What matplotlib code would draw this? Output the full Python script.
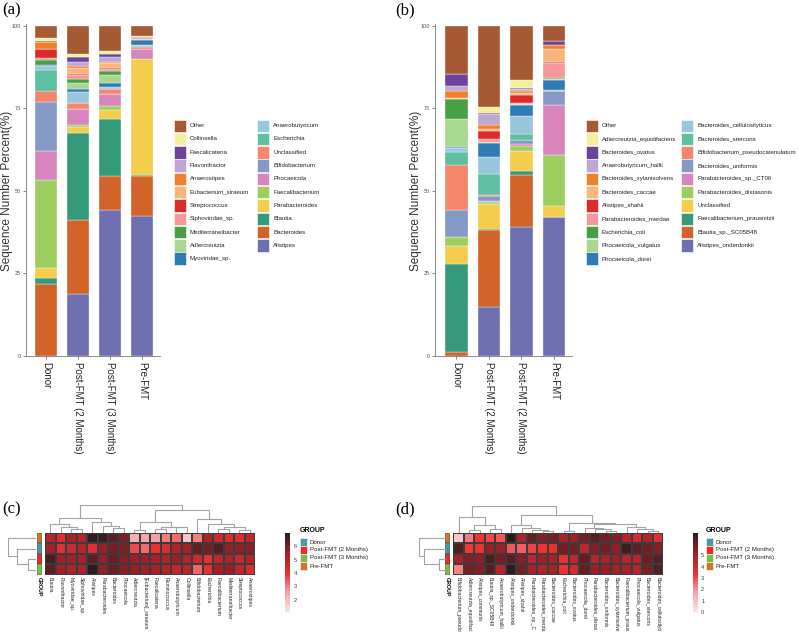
import numpy as np
import matplotlib
matplotlib.use("Agg")
import matplotlib.pyplot as plt
from matplotlib.colors import LinearSegmentedColormap
from matplotlib.patches import Rectangle

plt.rcParams['font.family'] = ['Liberation Sans', 'DejaVu Sans']

W, H = 798, 635
fig = plt.figure(figsize=(W / 100, H / 100), dpi=100)

# ---------------- data: stacked bars ----------------
groups_a = ['Donor', 'Post-FMT (2 Months)', 'Post-FMT (3 Months)', 'Pre-FMT']
groups_b = ['Donor', 'Post-FMT (2 Months)', 'Post-FMT (2 Months)', 'Pre-FMT']

palette = ['#A65A33', '#F2F09B', '#6A449B', '#BDA8D3', '#F37F2A', '#F8B67A', '#DC2B2B',
           '#F4989A', '#47A046', '#A8D78F', '#2E7BB5', '#98C6DC', '#5FBFA1', '#F5866B',
           '#8499C6', '#D885BE', '#9CCF60', '#F3CD4B', '#36997A', '#D2632B', '#6E6FAF']

genus = ['Other', 'Collinsella', 'Faecalicatena', 'Flavonifractor', 'Anaerostipes',
         'Eubacterium_siraeum', 'Streptococcus', 'Siphoviridae_sp.', 'Mediterraneibacter',
         'Adlercreutzia', 'Myoviridae_sp.', 'Anaerobutyricum', 'Escherichia', 'Unclassified',
         'Bifidobacterium', 'Phocaeicola', 'Faecalibacterium', 'Parabacteroides', 'Blautia',
         'Bacteroides', 'Alistipes']
genus_donor = [3.7, 1.0, 0.1, 0.1, 2.0, 0.2, 2.5, 0.8, 1.4, 0.1, 0.1, 1.3, 6.4, 3.2, 15.0, 8.8, 26.6, 3.0, 1.8, 21.9, 0.0]
genus_post2 = [8.6, 0.9, 1.4, 1.2, 0.5, 1.8, 0.4, 1.3, 1.2, 1.8, 1.0, 3.2, 0.1, 1.8, 0.1, 4.8, 0.4, 1.8, 26.5, 22.3, 18.9]
genus_post3 = [7.7, 0.8, 1.0, 1.4, 0.3, 1.4, 0.4, 0.6, 1.4, 2.4, 1.0, 0.6, 0.1, 1.4, 0.2, 3.6, 1.2, 2.8, 17.2, 10.3, 44.2]
genus_pre = [3.0, 0.0, 0.0, 0.0, 0.1, 0.1, 0.1, 0.6, 0.1, 0.1, 1.8, 0.1, 0.4, 0.5, 0.1, 3.0, 0.1, 35.0, 0.3, 12.2, 42.4]

species = ['Other', 'Adlercreutzia_equolifaciens', 'Bacteroides_ovatus', 'Anaerobutyricum_hallii',
           'Bacteroides_xylanisolvens', 'Bacteroides_caccae', 'Alistipes_shahii',
           'Parabacteroides_merdae', 'Escherichia_coli', 'Phocaeicola_vulgatus', 'Phocaeicola_dorei',
           'Bacteroides_cellulosilyticus', 'Bacteroides_stercoris', 'Bifidobacterium_pseudocatenulatum',
           'Bacteroides_uniformis', 'Parabacteroides_sp._CT06', 'Parabacteroides_distasonis',
           'Unclassified', 'Faecalibacterium_prausnitzii', 'Blautia_sp._SC05B48', 'Alistipes_onderdonkii']
species_donor = [14.4, 0.1, 3.7, 1.4, 2.1, 0.1, 0.1, 0.1, 6.2, 8.6, 0.3, 1.0, 4.0, 13.8, 7.9, 0.1, 2.7, 5.5, 26.6, 1.3, 0.0]
species_post2 = [24.6, 1.8, 0.4, 3.1, 1.3, 0.5, 2.6, 0.8, 0.2, 0.3, 4.2, 5.2, 6.2, 0.3, 1.5, 0.3, 0.5, 7.7, 0.4, 23.4, 14.7]
species_post3 = [16.4, 2.3, 0.3, 0.7, 0.7, 0.5, 2.3, 0.3, 0.2, 0.3, 3.3, 5.4, 1.7, 0.1, 1.2, 0.8, 1.3, 6.1, 1.2, 15.9, 39.0]
species_pre = [4.6, 0.1, 1.0, 0.2, 1.0, 4.0, 0.4, 4.5, 0.4, 0.2, 2.9, 0.1, 0.3, 0.1, 4.2, 15.0, 15.4, 3.4, 0.1, 0.1, 42.0]

# ---------------- data: heatmaps ----------------
hm_rows = ['Pre-FMT', 'Donor', 'Post-FMT (2 Months)', 'Post-FMT (3 Months)']
group_colors = {'Donor': '#4A98A6', 'Post-FMT (2 Months)': '#EC2A2C',
                'Post-FMT (3 Months)': '#7DBB48', 'Pre-FMT': '#D2722F'}

hm_genus = ['Blautia', 'Flavonifractor', 'Myoviridae_sp.', 'Siphoviridae_sp.', 'Alistipes',
            'Parabacteroides', 'Bacteroides', 'Phocaeicola', 'Adlercreutzia', '[Eubacterium]_siraeum',
            'Faecalicatena', 'Ruminococcus', 'Anaerobutyricum', 'Collinsella', 'Bifidobacterium',
            'Escherichia', 'Faecalibacterium', 'Mediterraneibacter', 'Streptococcus', 'Anaerostipes']
hmg_pre = [5.0, 4.2, 5.3, 5.0, 6.8, 6.7, 6.2, 5.9, 2.3, 2.5, 2.6, 3.0, 3.2, 1.8, 3.0, 5.2, 4.6, 4.3, 4.2, 4.8]
hmg_donor = [5.4, 4.1, 4.6, 5.0, 4.2, 5.6, 6.0, 5.9, 3.6, 3.2, 4.0, 4.3, 5.2, 5.3, 6.2, 6.0, 6.4, 5.6, 5.7, 5.7]
hmg_post2 = [6.5, 5.5, 5.4, 5.3, 6.3, 5.5, 6.1, 5.8, 5.5, 5.5, 5.3, 5.2, 5.6, 5.1, 4.6, 4.0, 4.8, 5.2, 4.7, 5.0]
hmg_post3 = [6.3, 5.4, 5.2, 5.2, 6.9, 5.6, 6.1, 5.8, 5.6, 5.4, 5.3, 5.1, 4.8, 5.0, 3.3, 4.0, 5.4, 5.5, 4.8, 4.3]
# column tree: (left, right, height), new nodes numbered from len(leaves)
genus_tree = [(2, 3, 10), (1, 20, 18), (0, 21, 26), (6, 7, 13), (5, 23, 20), (4, 24, 33),
              (22, 25, 43), (8, 9, 8), (10, 11, 10), (12, 13, 16), (28, 29, 18), (27, 30, 33),
              (16, 17, 10), (18, 19, 8), (32, 33, 16), (15, 34, 26), (14, 35, 41), (31, 36, 68),
              (26, 37, 83)]
genus_row_tree = [(2, 3, 8), (1, 4, 19), (0, 5, 28)]

hm_species = ['Bifidobacterium_pseudo', 'Adlercreutzia_equolifaci', 'Alistipes_communis',
              'Blautia_sp._SC05B48', 'Anaerobutyricum_hallii', 'Alistipes_onderdonkii',
              'Alistipes_shahii', 'Parabacteroides_sp._C', 'Parabacteroides_merda',
              'Bacteroides_caccae', 'Escherichia_coli', 'Bacteroides_ovatus', 'Phocaeicola_dorei',
              'Parabacteroides_distas', 'Bacteroides_uniformis', 'Bacteroides_xylanisolve',
              'Faecalibacterium_praus', 'Phocaeicola_vulgatus', 'Bacteroides_stercoris',
              'Bacteroides_cellulosilyti']
hms_pre = [0.8, 2.3, 3.3, 3.0, 2.8, 6.9, 4.8, 6.0, 5.6, 5.7, 4.9, 5.2, 5.7, 6.2, 5.8, 5.6, 4.6, 4.0, 4.8, 3.5]
hms_donor = [6.3, 3.2, 3.3, 5.3, 5.2, 2.8, 2.7, 3.1, 3.3, 3.4, 5.8, 5.8, 4.5, 5.6, 5.8, 5.4, 6.6, 6.1, 5.8, 5.6]
hms_post2 = [5.0, 5.6, 5.4, 6.4, 5.8, 6.2, 5.6, 4.5, 5.2, 5.0, 3.4, 4.4, 6.0, 4.6, 5.0, 5.2, 4.6, 4.6, 5.9, 6.2]
hms_post3 = [2.2, 5.8, 5.6, 6.3, 4.6, 6.9, 5.8, 5.0, 4.8, 5.0, 3.3, 4.0, 6.0, 5.2, 5.3, 5.1, 5.0, 4.6, 5.7, 6.3]
species_tree = [(1, 2, 8), (3, 4, 10), (20, 21, 23), (0, 22, 46), (8, 9, 5), (7, 24, 8),
                (6, 25, 13), (5, 26, 23), (10, 11, 6), (14, 15, 5), (13, 29, 10), (12, 30, 14),
                (18, 19, 6), (17, 32, 10), (16, 33, 16), (31, 34, 25), (28, 35, 30), (27, 36, 53),
                (23, 37, 80)]
species_row_tree = [(2, 3, 7), (1, 4, 22), (0, 5, 27)]

heat_cmap = LinearSegmentedColormap.from_list(
    'heat', [(0.0, '#FCE4E7'), (0.25, '#F6A2A8'), (0.47, '#EE3233'),
             (0.76, '#9A1E27'), (1.0, '#1F1E1E')])


def px_axes(x0, y0, x1, y1):
    return fig.add_axes([x0 / W, 1 - y1 / H, (x1 - x0) / W, (y1 - y0) / H])


def fig_text(x, y, s, **kw):
    fig.text(x / W, 1 - y / H, s, **kw)


def fig_rect(x, y, w, h, color):
    fig.patches.append(Rectangle((x / W, 1 - (y + h) / H), w / W, h / H,
                                 transform=fig.transFigure, facecolor=color,
                                 edgecolor='white', linewidth=0.4))


def stacked_panel(x0, x1, lo, hi, labels, series):
    ax = px_axes(x0, 24, x1, 356)
    data = np.array(series)
    x = np.arange(len(labels))
    bottom = np.zeros(len(labels))
    for j in range(data.shape[1] - 1, -1, -1):
        ax.bar(x, data[:, j], bottom=bottom, width=0.69, color=palette[j],
               edgecolor='white', linewidth=0.25)
        bottom += data[:, j]
    ax.set_xlim(lo, hi)
    ax.set_ylim(0, 100.6)
    ax.set_yticks([0, 25, 50, 75, 100])
    ax.set_xticks(x)
    ax.set_xticklabels(labels, rotation=270, fontsize=7, color='#222222')
    ax.tick_params(axis='y', labelsize=4, colors='#555555', length=2, width=0.5, pad=1.5)
    ax.tick_params(axis='x', length=2, width=0.5, colors='#555555', labelcolor='#222222', pad=2)
    for s in ['top', 'right']:
        ax.spines[s].set_visible(False)
    for s in ['left', 'bottom']:
        ax.spines[s].set_color('#777777')
        ax.spines[s].set_linewidth(0.6)
    fig_text(x0 - 19, 191, 'Sequence Number Percent(%)', fontsize=8.5, rotation=90,
             ha='center', va='center', color='#333333')
    return ax


def bar_legend(x_swatch, names):
    for i, name in enumerate(names):
        col, row = divmod(i, 11)
        yc = 125.7 + row * 13.3
        fig_rect(x_swatch[col], yc - 6.2, 12, 12.4, palette[i])
        fig_text(x_swatch[col] + 16, yc, name, fontsize=4.4, va='center', ha='left', color='#222222')


def draw_tree(ax, tree, n, side):
    pos = {i: i + 0.5 for i in range(n)}
    hgt = {i: 0.0 for i in range(n)}
    for k, (a, b, h) in enumerate(tree):
        xs = [pos[a], pos[a], pos[b], pos[b]]
        ys = [hgt[a], h, h, hgt[b]]
        if side == 'top':
            ax.plot(xs, ys, color='#A3A3A3', lw=0.8, solid_capstyle='butt')
        else:
            ax.plot(ys, xs, color='#A3A3A3', lw=0.8, solid_capstyle='butt')
        pos[n + k] = (pos[a] + pos[b]) / 2
        hgt[n + k] = h
    ax.axis('off')


def heat_panel(hx0, cols, rows_vals, vmin, vmax, col_tree, col_top, row_tree, row_x0,
               cbar_x, cbar_ticks, leg_x):
    cw = 10.5
    hx1 = hx0 + cw * len(cols)
    ya, yb = 532.7, 575.0
    ax = px_axes(hx0, ya, hx1, yb)
    ax.pcolormesh(np.array(rows_vals), cmap=heat_cmap, vmin=vmin, vmax=vmax,
                  edgecolors='#3C3C3C', linewidth=0.3)
    ax.set_xlim(0, len(cols))
    ax.set_ylim(len(rows_vals), 0)
    ax.set_xticks(np.arange(len(cols)) + 0.5)
    ax.set_xticklabels(cols, rotation=270, fontsize=3.6, color='#222222')
    ax.set_yticks([])
    ax.tick_params(axis='x', length=0, pad=1.5)
    for s in ax.spines.values():
        s.set_visible(False)

    # group annotation column
    an = px_axes(hx0 - 8.3, ya, hx0 - 3.3, yb)
    for i, g in enumerate(hm_rows):
        an.add_patch(Rectangle((0, i), 1, 1, facecolor=group_colors[g],
                               edgecolor='#3C3C3C', linewidth=0.3))
    an.set_xlim(0, 1)
    an.set_ylim(len(hm_rows), 0)
    an.set_xticks([0.5])
    an.set_xticklabels(['GROUP'], rotation=270, fontsize=3.8, fontweight='bold')
    an.set_yticks([])
    an.tick_params(axis='x', length=0, pad=1.5)
    for s in an.spines.values():
        s.set_visible(False)

    # dendrograms
    dc = px_axes(hx0, ya - col_top / 3, hx1, ya)
    draw_tree(dc, col_tree, len(cols), 'top')
    dc.set_xlim(0, len(cols))
    dc.set_ylim(0, col_top)
    row_top = max(t[2] for t in row_tree)
    dr = px_axes(row_x0, ya, row_x0 + row_top, yb)
    draw_tree(dr, row_tree, len(hm_rows), 'left')
    dr.set_xlim(row_top, 0)
    dr.set_ylim(len(hm_rows), 0)

    # colour key
    cb = px_axes(cbar_x, 532.7, cbar_x + 5, 612.0)
    cb.imshow(np.linspace(vmin, vmax, 256).reshape(-1, 1), cmap=heat_cmap, aspect='auto',
              origin='lower', extent=(0, 1, vmin, vmax), vmin=vmin, vmax=vmax)
    cb.set_xticks([])
    cb.yaxis.tick_right()
    cb.set_yticks(cbar_ticks)
    cb.tick_params(axis='y', labelsize=4, length=0, pad=2.5, labelcolor='#333333')
    for s in cb.spines.values():
        s.set_visible(False)

    # group legend
    fig_text(leg_x, 530.5, 'GROUP', fontsize=5, fontweight='bold', va='center', ha='left')
    for i, g in enumerate(['Donor', 'Post-FMT (2 Months)', 'Post-FMT (3 Months)', 'Pre-FMT']):
        yc = 542.0 + i * 8.0
        fig_rect(leg_x, yc - 4, 7, 8, group_colors[g])
        fig_text(leg_x + 9.5, yc, g, fontsize=4.4, va='center', ha='left', color='#222222')


# ---------------- panels ----------------
stacked_panel(26, 160, -0.625, 3.5625, groups_a, [genus_donor, genus_post2, genus_post3, genus_pre])
bar_legend([174, 257], genus)

stacked_panel(435, 572, -0.655, 3.56, groups_b, [species_donor, species_post2, species_post3, species_pre])
bar_legend([585.7, 681], species)

heat_panel(45.0, hm_genus, [hmg_pre, hmg_donor, hmg_post2, hmg_post3], 1.1, 7.0,
           genus_tree, 83, genus_row_tree, 8.3, 285, [2, 3, 4, 5, 6], 300)
heat_panel(453.3, hm_species, [hms_pre, hms_donor, hms_post2, hms_post3], 0.0, 7.0,
           species_tree, 80, species_row_tree, 419.3, 692.7, [0, 1, 2, 3, 4, 5], 706)

for lab, x, y in [('(a)', 2, 10), ('(b)', 395, 10), ('(c)', 2, 509), ('(d)', 395, 509)]:
    fig_text(x, y, lab, fontsize=12, family='Liberation Serif', va='center', ha='left')

fig.savefig('out.png', dpi=100)
